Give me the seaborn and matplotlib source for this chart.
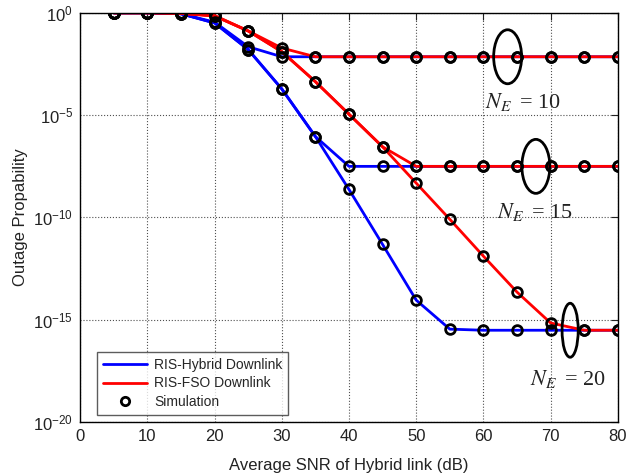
import numpy as np
import pandas as pd
import matplotlib
matplotlib.use("Agg")
import matplotlib.pyplot as plt
import seaborn as sns
from matplotlib.lines import Line2D
from matplotlib.patches import Ellipse
from matplotlib.ticker import FixedLocator

snr = [5, 10, 15, 20, 25, 30, 35, 40, 45, 50, 55, 60, 65, 70, 75, 80]

hyb_10 = [1.0, 1.0, 0.9, 0.35, 0.022, 7.1e-3, 7.1e-3, 7.1e-3, 7.1e-3, 7.1e-3, 7.1e-3, 7.1e-3, 7.1e-3, 7.1e-3, 7.1e-3, 7.1e-3]
hyb_15 = [1.0, 1.0, 0.9, 0.32, 0.016, 1.9e-4, 8.9e-7, 3.1e-8, 3.1e-8, 3.1e-8, 3.1e-8, 3.1e-8, 3.1e-8, 3.1e-8, 3.1e-8, 3.1e-8]
hyb_20 = [1.0, 1.0, 0.9, 0.32, 0.016, 1.9e-4, 8.9e-7, 2.3e-9, 4.7e-12, 8.9e-15, 3.4e-16, 3.0e-16, 3.0e-16, 3.0e-16, 3.0e-16, 3.0e-16]

fso_10 = [1.0, 1.0, 0.95, 0.74, 0.13, 0.019, 7.1e-3, 7.1e-3, 7.1e-3, 7.1e-3, 7.1e-3, 7.1e-3, 7.1e-3, 7.1e-3, 7.1e-3, 7.1e-3]
fso_15 = [1.0, 1.0, 0.95, 0.7, 0.13, 0.0126, 4.3e-4, 1.1e-5, 2.8e-7, 3.1e-8, 3.1e-8, 3.1e-8, 3.1e-8, 3.1e-8, 3.1e-8, 3.1e-8]
fso_20 = [1.0, 1.0, 0.95, 0.7, 0.13, 0.0126, 4.3e-4, 1.1e-5, 2.8e-7, 4.7e-9, 8.0e-11, 1.26e-12, 2.2e-14, 6.8e-16, 3.0e-16, 3.0e-16]

legend_labels = ["RIS-Hybrid Downlink", "RIS-FSO Downlink", "Simulation"]
ne_labels = ["10", "15", "20"]

series = {
    ("Hybrid", "10"): hyb_10, ("Hybrid", "15"): hyb_15, ("Hybrid", "20"): hyb_20,
    ("FSO", "10"): fso_10, ("FSO", "15"): fso_15, ("FSO", "20"): fso_20,
}
rows = []
for (link, ne), vals in series.items():
    for x, v in zip(snr, vals):
        rows.append({"snr": x, "p": v, "link": link, "ne": ne, "key": link + ne})
df = pd.DataFrame(rows)

sns.set_style("white")
plt.rcParams["font.family"] = ["Liberation Sans", "DejaVu Sans"]
plt.rcParams["mathtext.fontset"] = "custom"
plt.rcParams["mathtext.rm"] = "Liberation Sans"
plt.rcParams["mathtext.it"] = "Liberation Sans:italic"
plt.rcParams["axes.unicode_minus"] = False

fig = plt.figure(figsize=(6.26, 4.75), dpi=100)
ax = fig.add_axes([0.128, 0.112, 0.859, 0.861])

palette = {"Hybrid10": "#0000FF", "Hybrid15": "#0000FF", "Hybrid20": "#0000FF",
           "FSO10": "#FF0000", "FSO15": "#FF0000", "FSO20": "#FF0000"}
order = ["Hybrid10", "Hybrid15", "Hybrid20", "FSO10", "FSO15", "FSO20"]
sns.lineplot(data=df, x="snr", y="p", hue="key", hue_order=order, palette=palette,
             units="key", estimator=None, linewidth=2, legend=False, ax=ax, zorder=2)
for key in order:
    sub = df[df["key"] == key]
    ax.plot(sub["snr"], sub["p"], linestyle="none", marker="o", markersize=7,
            markerfacecolor="none", markeredgecolor="black", markeredgewidth=2, zorder=3)

ax.set_yscale("log")
ax.set_xlim(0, 80)
ax.set_ylim(1e-20, 1e0)
ax.xaxis.set_major_locator(FixedLocator(np.arange(0, 81, 10)))
ax.yaxis.set_major_locator(FixedLocator([1e-20, 1e-15, 1e-10, 1e-5, 1e0]))
ax.yaxis.set_minor_locator(FixedLocator([]))
ax.grid(True, which="major", linestyle=":", color="#505050", linewidth=0.8)
ax.tick_params(axis="both", which="major", direction="in", top=True, right=True,
               length=5, labelsize=12, colors="#222222", pad=5)
ax.tick_params(axis="both", which="minor", length=0)
for s in ax.spines.values():
    s.set_color("black")
    s.set_linewidth(1.0)

ax.set_xlabel("Average SNR of Hybrid link (dB)", fontsize=12, color="#222222", labelpad=10)
ax.set_ylabel("Outage Propability", fontsize=12, color="#222222", labelpad=4)


def afrac(x, p):
    return x / 80.0, (np.log10(p) + 20.0) / 20.0


# ellipse sizes in axes fractions
ew, eh = 0.052, 0.132
for (cx, cy, w) in [(63.6, 7.1e-3, ew), (67.8, 3.1e-8, ew), (72.9, 3.0e-16, 0.030)]:
    fx, fy = afrac(cx, cy)
    ax.add_patch(Ellipse((fx, fy), w, eh, transform=ax.transAxes, fill=False,
                         lw=2, edgecolor="black", zorder=4))

ann_kw = dict(fontsize=16, math_fontfamily="stix", family="Liberation Serif",
              color="#222222", ha="left", va="center", transform=ax.transAxes)
for (tx, ty, lab) in [(60.3, 10**-4.35, ne_labels[0]), (62.0, 10**-9.75, ne_labels[1]),
                      (67.0, 10**-17.9, ne_labels[2])]:
    fx, fy = afrac(tx, ty)
    ax.text(fx, fy, r"$N_E\,$ = " + lab, **ann_kw)

handles = [Line2D([], [], color="#0000FF", lw=2),
           Line2D([], [], color="#FF0000", lw=2),
           Line2D([], [], linestyle="none", marker="o", markersize=6, markerfacecolor="none",
                  markeredgecolor="black", markeredgewidth=2)]
leg = ax.legend(handles, legend_labels, loc="lower left", bbox_to_anchor=(0.032, 0.017),
                borderaxespad=0.0,
                fontsize=10, frameon=True, fancybox=False, borderpad=0.4, labelspacing=0.35,
                handlelength=3.2, handletextpad=0.5)
leg.get_frame().set_edgecolor("#333333")
leg.get_frame().set_linewidth(1.0)

fig.savefig("out.png", dpi=100)
